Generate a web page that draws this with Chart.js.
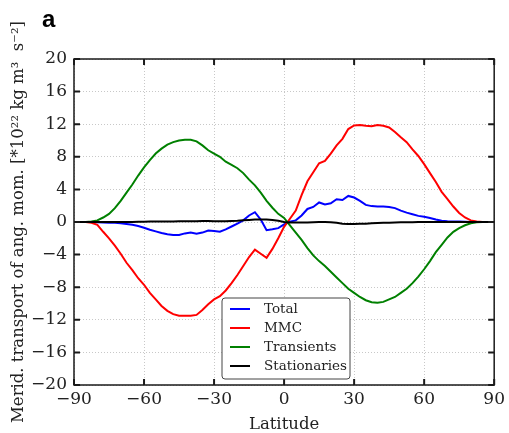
<!DOCTYPE html>
<html lang="en">
<head>
<meta charset="UTF-8">
<title>Angular momentum transport</title>
<script src="https://cdn.jsdelivr.net/npm/chart.js@4.4.1/dist/chart.umd.min.js"></script>
<style>
body { margin: 0; background: #fff; }
</style>
</head>
<body>
<canvas id="chart" width="509" height="433"></canvas>
<script>
// latitudes (deg)
var lats = [-90, -87.5, -85, -82.5, -80, -77.5, -75, -72.5, -70, -67.5, -65, -62.5, -60, -57.5, -55, -52.5, -50, -47.5, -45, -42.5,
  -40, -37.5, -35, -32.5, -30, -27.5, -25, -22.5, -20, -17.5, -15, -12.5, -10, -7.5, -5, -2.5, 0, 2.5, 5, 7.5,
  10, 12.5, 15, 17.5, 20, 22.5, 25, 27.5, 30, 32.5, 35, 37.5, 40, 42.5, 45, 47.5, 50, 52.5, 55, 57.5,
  60, 62.5, 65, 67.5, 70, 72.5, 75, 77.5, 80, 82.5, 85, 87.5, 90];

var total = [0, 0, 0, 0, -0.02, -0.05, -0.08, -0.1, -0.15, -0.25, -0.35, -0.5, -0.7, -0.95, -1.15, -1.35, -1.5, -1.6, -1.6, -1.4,
  -1.3, -1.45, -1.3, -1.05, -1.1, -1.2, -0.9, -0.55, -0.2, 0.2, 0.8, 1.2, 0.3, -1.0, -0.9, -0.75, -0.3, 0.05, 0.2, 0.8,
  1.6, 1.85, 2.4, 2.15, 2.3, 2.8, 2.7, 3.2, 3.0, 2.6, 2.1, 1.95, 1.9, 1.9, 1.85, 1.7, 1.4, 1.15, 0.95, 0.75,
  0.65, 0.5, 0.3, 0.15, 0.1, 0.07, 0.05, 0.03, 0.01, 0, 0, 0, 0];

var mmc = [0, 0, 0, -0.1, -0.35, -1.2, -2.0, -2.9, -3.9, -5.0, -5.9, -6.9, -7.7, -8.7, -9.5, -10.3, -10.9, -11.3, -11.5, -11.5,
  -11.5, -11.4, -10.8, -10.1, -9.5, -9.1, -8.4, -7.5, -6.5, -5.4, -4.3, -3.4, -3.9, -4.4, -3.3, -2.0, -0.6, 0.4, 1.4, 3.3,
  5.0, 6.1, 7.2, 7.5, 8.4, 9.4, 10.2, 11.4, 11.85, 11.9, 11.8, 11.75, 11.9, 11.8, 11.6, 11.05, 10.4, 9.8, 8.9, 8.1,
  7.1, 6.0, 4.9, 3.7, 2.8, 1.9, 1.1, 0.55, 0.2, 0.05, 0, 0, 0];

var transients = [0, 0, 0, 0.05, 0.2, 0.55, 1.0, 1.7, 2.6, 3.6, 4.6, 5.7, 6.7, 7.6, 8.4, 9.0, 9.5, 9.8, 10.0, 10.1,
  10.1, 9.9, 9.4, 8.8, 8.4, 8.0, 7.4, 7.0, 6.6, 6.0, 5.2, 4.5, 3.6, 2.6, 1.75, 1.0, 0.5, -0.4, -1.3, -2.2,
  -3.2, -4.1, -4.8, -5.4, -6.1, -6.8, -7.5, -8.2, -8.7, -9.2, -9.6, -9.85, -9.9, -9.8, -9.5, -9.2, -8.7, -8.2, -7.5, -6.7,
  -5.8, -4.8, -3.7, -2.8, -1.9, -1.2, -0.75, -0.4, -0.15, -0.03, 0, 0, 0];

var stationaries = [0, 0, 0, 0, 0, 0, 0, 0, 0, 0, 0, 0.02, 0.03, 0.05, 0.05, 0.05, 0.05, 0.07, 0.08, 0.1,
  0.1, 0.1, 0.12, 0.12, 0.1, 0.1, 0.1, 0.12, 0.15, 0.2, 0.25, 0.3, 0.3, 0.3, 0.25, 0.15, 0, -0.05, -0.05, -0.05,
  -0.05, -0.02, 0, 0, -0.02, -0.1, -0.2, -0.25, -0.25, -0.22, -0.2, -0.15, -0.12, -0.1, -0.08, -0.06, -0.04, -0.03, -0.02, -0.01,
  0, 0, 0, 0, 0, 0, 0, 0, 0, 0, 0, 0, 0];

var seriesNames = ['Total', 'MMC', 'Transients', 'Stationaries'];
var seriesColors = ['#0000ff', '#ff0000', '#008000', '#000000'];
var xTicks = [-90, -60, -30, 0, 30, 60, 90];
var yTicks = [-20, -16, -12, -8, -4, 0, 4, 8, 12, 16, 20];

var serif = "'DejaVu Serif', 'Liberation Serif', serif";

function pts(vals) {
  return lats.map(function(x, i) { return { x: x, y: vals[i] }; });
}
function minus(v) {
  return String(v).replace('-', '\u2212');
}

var allVals = [total, mmc, transients, stationaries];
var datasets = allVals.map(function(v, i) {
  return {
    label: seriesNames[i],
    data: pts(v),
    borderColor: seriesColors[i],
    borderWidth: 2,
    pointRadius: 0,
    tension: 0,
    order: 4 - i
  };
});

// matplotlib-like frame, inward ticks, legend and panel letter
var decor = {
  id: 'decor',
  afterDraw: function(chart) {
    var ctx = chart.ctx, a = chart.chartArea;
    var xs = chart.scales.x, ys = chart.scales.y;
    ctx.save();
    ctx.strokeStyle = '#1a1a1a';
    ctx.lineWidth = 1.5;
    ctx.strokeRect(a.left, a.top, a.right - a.left, a.bottom - a.top);

    ctx.lineWidth = 2;
    ctx.beginPath();
    xTicks.forEach(function(t) {
      var px = xs.getPixelForValue(t);
      ctx.moveTo(px, a.bottom); ctx.lineTo(px, a.bottom - 6);
      ctx.moveTo(px, a.top); ctx.lineTo(px, a.top + 6);
    });
    yTicks.forEach(function(t) {
      var py = ys.getPixelForValue(t);
      ctx.moveTo(a.left, py); ctx.lineTo(a.left + 6, py);
      ctx.moveTo(a.right, py); ctx.lineTo(a.right - 6, py);
    });
    ctx.stroke();

    // legend box
    var bx = 222, by = 298, bw = 128, bh = 81;
    ctx.beginPath();
    ctx.roundRect(bx, by, bw, bh, 3);
    ctx.fillStyle = '#fff';
    ctx.fill();
    ctx.lineWidth = 1;
    ctx.strokeStyle = '#444';
    ctx.stroke();
    ctx.font = '13.5px ' + serif;
    ctx.textBaseline = 'middle';
    ctx.textAlign = 'left';
    chart.data.datasets.forEach(function(ds, i) {
      var ry = by + 11 + i * 19;
      ctx.beginPath();
      ctx.strokeStyle = ds.borderColor;
      ctx.lineWidth = 2;
      ctx.moveTo(bx + 8, ry); ctx.lineTo(bx + 28, ry);
      ctx.stroke();
      ctx.fillStyle = '#222';
      ctx.fillText(ds.label, bx + 42, ry);
    });

    ctx.font = "bold 24px 'Liberation Sans', Arial, sans-serif";
    ctx.fillStyle = '#000';
    ctx.textBaseline = 'alphabetic';
    ctx.fillText('a', 42, 27);
    ctx.restore();
  }
};

new Chart(document.getElementById('chart'), {
  type: 'line',
  data: { datasets: datasets },
  plugins: [decor],
  options: {
    responsive: false,
    animation: false,
    layout: { padding: { top: 59, right: 12, left: 0, bottom: 0 } },
    plugins: { legend: { display: false }, tooltip: { enabled: false } },
    scales: {
      x: {
        type: 'linear',
        min: -90, max: 90,
        afterBuildTicks: function(s) { s.ticks = xTicks.map(function(v) { return { value: v }; }); },
        afterFit: function(s) { s.height = 48; },
        ticks: {
          color: '#222', padding: 4,
          font: { family: serif, size: 17 },
          callback: function(v) { return minus(v); }
        },
        grid: { color: '#c8c8c8', lineWidth: 1, drawTicks: false },
        border: { display: false, dash: [1, 2] },
        title: {
          display: true, text: 'Latitude', color: '#222',
          font: { family: serif, size: 16.5, lineHeight: 1.0 },
          padding: { top: 0, bottom: 0 }
        }
      },
      y: {
        min: -20, max: 20,
        afterBuildTicks: function(s) { s.ticks = yTicks.map(function(v) { return { value: v }; }); },
        afterFit: function(s) { s.width = 74; },
        ticks: {
          color: '#222', padding: 7,
          font: { family: serif, size: 17 },
          callback: function(v) { return minus(v); }
        },
        grid: { color: '#c8c8c8', lineWidth: 1, drawTicks: false },
        border: { display: false, dash: [1, 2] },
        title: {
          display: true,
          text: 'Merid. transport of ang. mom. [*10\u00b2\u00b2 kg m\u00b3  s\u207b\u00b2]',
          color: '#222',
          font: { family: serif, size: 16.5, lineHeight: 1.0 },
          padding: { top: 10, bottom: 0 }
        }
      }
    }
  }
});
</script>
</body>
</html>
